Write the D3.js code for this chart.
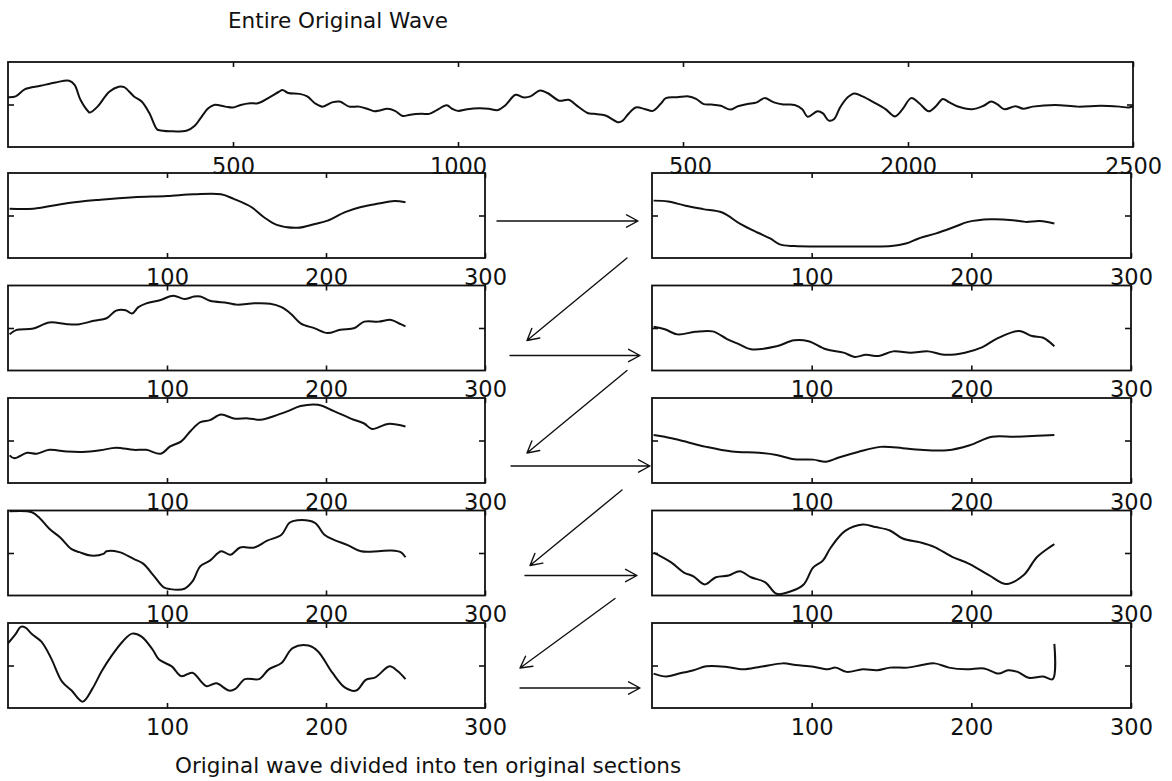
<!DOCTYPE html>
<html>
<head>
<meta charset="utf-8">
<script src="https://cdn.jsdelivr.net/npm/d3@7"></script>
<style>
  body { margin: 0; background: #fff; }
  svg { display: block; }
  text { font-family: "DejaVu Sans", sans-serif; fill: #111; }
</style>
</head>
<body>
<svg id="chart" width="1172" height="781"></svg>
<script>
// ---- data -------------------------------------------------------------
// Entire wave, sample index vs. normalised amplitude
const entireWave = [
  [0,0.17],[17,0.19],[38,0.36],[72,0.44],[106,0.52],[136,0.56],[148,0.46],[161,0.11],[178,-0.16],[182,-0.19],
  [199,-0.05],[225,0.30],[246,0.42],[258,0.41],[280,0.19],[297,0.07],[314,-0.20],[331,-0.58],[339,-0.61],[398,-0.61],
  [415,-0.50],[428,-0.32],[445,-0.09],[458,-0.01],[483,-0.05],[500,-0.07],[517,-0.01],[538,0.03],[555,0.03],[581,0.17],
  [602,0.30],[610,0.34],[623,0.27],[648,0.25],[665,0.19],[682,0.03],[699,-0.05],[720,0.05],[737,0.07],[758,-0.05],
  [780,-0.05],[801,-0.11],[814,-0.16],[826,-0.14],[843,-0.10],[860,-0.15],[877,-0.27],[894,-0.24],[919,-0.22],[936,-0.22],
  [953,-0.13],[975,-0.02],[987,-0.10],[1000,-0.15],[1021,-0.11],[1047,-0.09],[1068,-0.10],[1089,-0.13],[1106,-0.01],[1128,0.23],
  [1144,0.17],[1161,0.19],[1182,0.33],[1199,0.27],[1225,0.09],[1246,0.11],[1267,-0.05],[1288,-0.20],[1303,-0.22],[1328,-0.26],
  [1357,-0.42],[1366,-0.38],[1378,-0.23],[1395,-0.07],[1416,-0.11],[1433,-0.15],[1450,0.01],[1462,0.15],[1487,0.17],[1513,0.19],
  [1529,0.13],[1546,0.01],[1563,0.00],[1584,-0.03],[1605,-0.12],[1622,-0.04],[1643,0.01],[1664,0.05],[1681,0.15],[1702,0.05],
  [1723,0.00],[1748,-0.01],[1765,-0.11],[1777,-0.29],[1799,-0.16],[1811,-0.21],[1824,-0.38],[1836,-0.34],[1849,-0.07],[1866,0.17],
  [1881,0.26],[1899,0.19],[1924,0.05],[1950,-0.11],[1971,-0.28],[1988,-0.11],[2007,0.15],[2025,0.03],[2046,-0.16],[2063,-0.03],
  [2077,0.13],[2092,0.05],[2109,-0.04],[2143,-0.11],[2168,-0.03],[2185,0.07],[2198,0.01],[2214,-0.11],[2239,-0.04],[2256,-0.10],
  [2277,-0.05],[2327,-0.01],[2378,-0.05],[2428,-0.03],[2470,-0.05],[2491,-0.07],[2500,-0.03]
];

// The ten sections, each 250 samples long, in reading order
const section1 = [[1,0.16],[16,0.16],[37,0.29],[58,0.37],[79,0.43],[100,0.46],[117,0.50],[134,0.50],[142,0.39],[153,0.20],
  [161,-0.04],[169,-0.22],[182,-0.29],[193,-0.20],[201,-0.12],[212,0.08],[222,0.20],[233,0.28],[243,0.34],[250,0.31]];
const section2 = [[1,0.35],[10,0.33],[21,0.23],[32,0.15],[44,0.07],[55,-0.19],[66,-0.40],[74,-0.54],[80,-0.68],[89,-0.72],
  [111,-0.73],[134,-0.73],[150,-0.72],[159,-0.66],[167,-0.54],[178,-0.42],[190,-0.26],[198,-0.15],[212,-0.09],[226,-0.11],
  [234,-0.15],[243,-0.13],[252,-0.19]];
const section3 = [[1,-0.15],[5,-0.05],[16,-0.01],[26,0.13],[37,0.09],[45,0.09],[54,0.17],[62,0.23],[68,0.41],[74,0.42],
  [78,0.34],[82,0.49],[87,0.58],[96,0.66],[104,0.76],[111,0.68],[117,0.74],[121,0.74],[127,0.64],[138,0.59],[144,0.55],
  [155,0.58],[165,0.57],[172,0.49],[178,0.33],[184,0.11],[193,-0.01],[201,-0.12],[209,-0.04],[218,0.00],[224,0.15],
  [233,0.15],[241,0.19],[247,0.09],[250,0.04]];
const section4 = [[1,0.03],[8,-0.03],[16,-0.15],[27,-0.09],[38,-0.08],[47,-0.26],[55,-0.39],[62,-0.50],[78,-0.43],[89,-0.29],
  [98,-0.31],[109,-0.50],[120,-0.58],[127,-0.68],[134,-0.63],[142,-0.66],[151,-0.55],[162,-0.58],[173,-0.55],[183,-0.63],
  [196,-0.58],[207,-0.45],[216,-0.25],[230,-0.07],[238,-0.19],[245,-0.23],[252,-0.43]];
const section5 = [[1,-0.35],[4,-0.42],[12,-0.29],[18,-0.31],[26,-0.22],[37,-0.26],[47,-0.27],[58,-0.23],[68,-0.17],[79,-0.22],
  [87,-0.22],[96,-0.31],[102,-0.14],[109,-0.02],[115,0.23],[121,0.43],[127,0.48],[134,0.61],[142,0.52],[151,0.52],
  [159,0.49],[167,0.57],[176,0.69],[184,0.81],[195,0.84],[205,0.69],[216,0.51],[224,0.40],[229,0.27],[239,0.39],[250,0.33]];
const section6 = [[1,0.13],[8,0.09],[17,0.01],[34,-0.15],[50,-0.26],[67,-0.29],[78,-0.34],[89,-0.44],[101,-0.45],[109,-0.50],
  [117,-0.40],[129,-0.27],[143,-0.15],[157,-0.18],[168,-0.22],[185,-0.23],[199,-0.11],[213,0.09],[227,0.09],[241,0.11],[252,0.13]];
const section7 = [[1,0.98],[15,0.96],[20,0.82],[26,0.57],[33,0.36],[40,0.09],[45,0.02],[52,-0.06],[60,-0.02],[62,0.04],
  [70,0.02],[79,-0.14],[85,-0.25],[92,-0.55],[98,-0.81],[102,-0.85],[111,-0.84],[116,-0.67],[121,-0.31],[127,-0.18],
  [134,0.04],[140,-0.04],[146,0.13],[155,0.13],[163,0.29],[172,0.43],[177,0.71],[182,0.77],[193,0.71],[199,0.43],
  [205,0.31],[214,0.18],[222,0.04],[233,0.04],[241,0.06],[247,0.02],[250,-0.10]];
const section8 = [[1,0.01],[12,-0.22],[20,-0.46],[26,-0.55],[33,-0.74],[40,-0.57],[48,-0.53],[55,-0.43],[62,-0.57],[71,-0.69],
  [78,-0.96],[87,-0.90],[95,-0.74],[101,-0.34],[107,-0.18],[112,0.13],[121,0.52],[132,0.67],[140,0.61],[149,0.53],
  [157,0.34],[168,0.25],[177,0.14],[188,-0.09],[199,-0.26],[211,-0.52],[222,-0.73],[233,-0.51],[241,-0.10],[252,0.21]];
const section9 = [[0,0.52],[5,0.75],[8,0.91],[11,0.89],[15,0.74],[21,0.56],[27,0.18],[34,-0.38],[40,-0.59],[47,-0.85],
  [53,-0.55],[59,-0.13],[65,0.22],[72,0.56],[78,0.75],[84,0.68],[91,0.37],[95,0.14],[103,-0.02],[109,-0.25],
  [116,-0.17],[122,-0.40],[125,-0.49],[131,-0.42],[139,-0.59],[143,-0.55],[149,-0.32],[158,-0.32],[164,-0.09],[172,0.06],
  [179,0.41],[189,0.47],[195,0.33],[204,-0.17],[212,-0.52],[219,-0.59],[225,-0.34],[231,-0.28],[240,-0.02],[245,-0.13],[250,-0.32]];
const section10 = [[1,-0.19],[9,-0.26],[17,-0.19],[26,-0.11],[34,-0.02],[46,-0.03],[57,-0.09],[68,-0.03],[82,0.05],[90,0.01],
  [101,-0.03],[110,-0.09],[115,-0.05],[122,-0.15],[132,-0.09],[141,-0.11],[149,-0.05],[160,-0.05],[169,0.01],[177,0.05],
  [186,-0.05],[197,-0.09],[208,-0.07],[217,-0.19],[223,-0.11],[229,-0.15],[236,-0.29],[245,-0.26],[251,-0.32],[252,0.51]];

const sections = [section1, section2, section3, section4, section5,
                  section6, section7, section8, section9, section10];

const entireDomain = [0, 2500];
const sectionDomain = [0, 300];
const yDomain = [-1, 1];

const entireTicks = [500, 1000, 1500, 2000, 2500];
const entireTickLabels = ["500", "1000", "500", "2000", "2500"];
const sectionTicks = [100, 200, 300];
const sectionTickLabels = ["100", "200", "300"];

const titleText = "Entire Original Wave";
const captionText = "Original wave divided into ten original sections";

// ---- layout -----------------------------------------------------------
const svg = d3.select("#chart");
const INK = "#111";
const tickFont = 22.5;

const topBox = { x0: 8, x1: 1133, y0: 62, y1: 147 };
const colL = { x0: 8, x1: 485 };
const colR = { x0: 652, x1: 1131 };
const rowH = 85;
const rowTop = i => 173 + i * 112.5;

function drawPanel(box, domain, ticks, labels, data, labelShift) {
  const x = d3.scaleLinear().domain(domain).range([box.x0, box.x1]);
  const y = d3.scaleLinear().domain(yDomain).range([box.y1, box.y0]);
  const g = svg.append("g");

  g.append("path")
    .datum(data)
    .attr("fill", "none")
    .attr("stroke", INK)
    .attr("stroke-width", 2)
    .attr("stroke-linejoin", "round")
    .attr("d", d3.line().x(d => x(d[0])).y(d => y(d[1])).curve(d3.curveCatmullRom.alpha(0.5)));

  const style = sel => {
    sel.select(".domain").remove();
    sel.attr("font-family", null).attr("font-size", null);
    sel.selectAll("line").attr("stroke", INK).attr("stroke-width", 1.6);
    sel.selectAll("text").attr("font-size", tickFont).attr("fill", INK);
  };

  g.append("g").attr("transform", `translate(0,${box.y1})`)
    .call(d3.axisBottom(x).tickValues(ticks).tickSize(-5).tickPadding(11)
      .tickFormat((d, i) => labels[i]))
    .call(style)
    .selectAll("text").attr("dx", (d, i) => (labelShift && labelShift[i]) || 0);

  g.append("g").attr("transform", `translate(0,${box.y0})`)
    .call(d3.axisTop(x).tickValues(ticks).tickSize(-5).tickFormat(""))
    .call(style);

  g.append("g").attr("transform", `translate(${box.x0},0)`)
    .call(d3.axisLeft(y).tickValues([0]).tickSize(-6).tickFormat(""))
    .call(style);
  g.append("g").attr("transform", `translate(${box.x1},0)`)
    .call(d3.axisRight(y).tickValues([0]).tickSize(-6).tickFormat(""))
    .call(style);

  g.append("rect")
    .attr("x", box.x0).attr("y", box.y0)
    .attr("width", box.x1 - box.x0).attr("height", box.y1 - box.y0)
    .attr("fill", "none").attr("stroke", INK).attr("stroke-width", 1.8);
}

// title
svg.append("text").attr("x", 228).attr("y", 28).attr("font-size", 21.5).text(titleText);

// entire wave
drawPanel(topBox, entireDomain, entireTicks, entireTickLabels, entireWave, [0, 0, 7, 0, 0]);

// sections, alternating left / right column down the rows
sections.forEach((sec, k) => {
  const row = Math.floor(k / 2);
  const col = k % 2 === 0 ? colL : colR;
  const box = { x0: col.x0, x1: col.x1, y0: rowTop(row), y1: rowTop(row) + rowH };
  drawPanel(box, sectionDomain, sectionTicks, sectionTickLabels, sec);
});

// hand-drawn style arrows linking consecutive sections
function arrow(x1, y1, x2, y2) {
  const a = Math.atan2(y2 - y1, x2 - x1);
  const h = 13, s = 0.5;
  const p = d3.path();
  p.moveTo(x1, y1); p.lineTo(x2, y2);
  p.moveTo(x2 - h * Math.cos(a - s), y2 - h * Math.sin(a - s));
  p.lineTo(x2, y2);
  p.lineTo(x2 - h * Math.cos(a + s), y2 - h * Math.sin(a + s));
  svg.append("path").attr("d", p.toString())
    .attr("fill", "none").attr("stroke", INK).attr("stroke-width", 1.4)
    .attr("stroke-linejoin", "round").attr("stroke-linecap", "round");
}

const hStart = [12, 25, 26, 40, 35];
const hEnd = [14, 12, 2, 15, 12];
const hDrop = [48, 70, 68, 65, 65];
for (let r = 0; r < 5; r++) {
  arrow(colL.x1 + hStart[r], rowTop(r) + hDrop[r], colR.x0 - hEnd[r], rowTop(r) + hDrop[r]);
}
const dStartX = [25, 25, 30, 37];
const dStartY = [0, 0, 7, 3];
const dEndX = [42, 42, 45, 35];
const dEndY = [55, 55, 55, 45];
for (let r = 0; r < 4; r++) {
  arrow(colR.x0 - dStartX[r], rowTop(r) + rowH + dStartY[r],
        colL.x1 + dEndX[r], rowTop(r + 1) + dEndY[r]);
}

// caption
svg.append("text").attr("x", 175).attr("y", 773).attr("font-size", 21.5).text(captionText);
</script>
</body>
</html>
